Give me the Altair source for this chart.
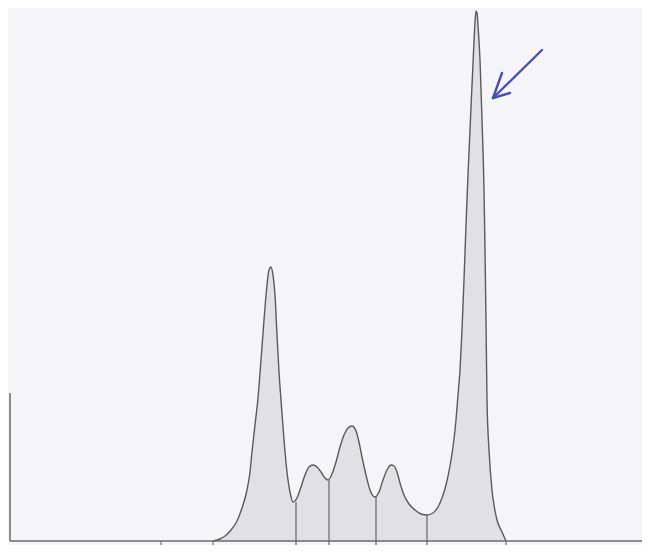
import altair as alt
import pandas as pd

# Densitometry trace (x: position along strip from the left axis, y: density above baseline)
trace_x = [203, 210, 215, 221, 227, 232, 237, 240, 242, 245, 248, 251, 254, 257, 259, 261, 263, 265, 267,
           269, 271, 274, 277, 280, 283, 287, 291, 295, 299, 303, 307, 311, 315, 318, 322, 326, 330, 334,
           338, 342, 346, 349, 352, 356, 360, 365, 369, 373, 377, 381, 384, 387, 390, 394, 399, 405, 411,
           417, 423, 428, 432, 436, 440, 443, 446, 448, 450, 452, 454, 456, 458, 460, 462, 464, 465, 466,
           467, 468, 470, 472, 474, 475, 476, 477, 479, 482, 484, 487, 492, 496]
trace_y = [0, 2, 5, 11, 20, 33, 51, 69, 89, 116, 143, 181, 221, 256, 271, 274, 266, 246, 206,
           169, 141, 101, 69, 49, 39, 43, 54, 66, 74, 76, 74, 69, 63, 61, 67, 79, 94, 106,
           113, 115, 110, 99, 84, 66, 51, 44, 49, 61, 71, 76, 75, 69, 58, 46, 37, 31, 27,
           26, 28, 34, 43, 56, 75, 94, 121, 146, 171, 211, 261, 316, 366, 411, 456, 499, 519, 530,
           528, 515, 481, 421, 351, 291, 221, 141, 91, 51, 36, 21, 9, 0]

# fraction dividers (x position, height of the trace where they meet it)
divider_x = [286, 319, 366, 417]
divider_top = [39, 61, 45, 26]

# tick marks below the baseline
tick_x = [151, 203, 496]
tick_bottom = [-6, -6, -10]

# hand-drawn arrow (shaft and two barbs)
arrow_x1 = [532, 483, 483]
arrow_y1 = [491, 443, 443]
arrow_x2 = [483, 492, 500]
arrow_y2 = [443, 468, 448]

xs = alt.Scale(domain=[-2, 632], nice=False, zero=False)
ys = alt.Scale(domain=[-4, 533], nice=False, zero=False)

trace = pd.DataFrame({"x": trace_x, "y": trace_y})
dividers = pd.DataFrame({"x": divider_x, "top": divider_top, "bottom": [-9] * len(divider_x)})
ticks = pd.DataFrame({"x": tick_x, "bottom": tick_bottom, "top": [0] * len(tick_x)})
arrow = pd.DataFrame({"x": arrow_x1, "y": arrow_y1, "x2": arrow_x2, "y2": arrow_y2})
axes = pd.DataFrame({"x": [0, 0], "x2": [0, 640], "y": [0, 0], "y2": [148, 0]})

area = alt.Chart(trace).mark_area(
    interpolate="monotone", color="#d9d9db", line={"color": "#5a5a5a", "strokeWidth": 1.4}
).encode(
    x=alt.X("x:Q", scale=xs, axis=None),
    y=alt.Y("y:Q", scale=ys, axis=None),
)

axis_lines = alt.Chart(axes).mark_rule(color="#6a6a6a", strokeWidth=1.5).encode(
    x=alt.X("x:Q", scale=xs, axis=None), x2="x2:Q",
    y=alt.Y("y:Q", scale=ys, axis=None), y2="y2:Q",
)

divider_lines = alt.Chart(dividers).mark_rule(color="#5a5a5a", strokeWidth=1.1).encode(
    x=alt.X("x:Q", scale=xs, axis=None),
    y=alt.Y("bottom:Q", scale=ys, axis=None), y2="top:Q",
)

tick_lines = alt.Chart(ticks).mark_rule(color="#6a6a6a", strokeWidth=1.1).encode(
    x=alt.X("x:Q", scale=xs, axis=None),
    y=alt.Y("bottom:Q", scale=ys, axis=None), y2="top:Q",
)

arrow_lines = alt.Chart(arrow).mark_rule(color="#4b4db5", strokeWidth=2.4, strokeCap="round").encode(
    x=alt.X("x:Q", scale=xs, axis=None), x2="x2:Q",
    y=alt.Y("y:Q", scale=ys, axis=None), y2="y2:Q",
)

chart = alt.layer(area, divider_lines, axis_lines, tick_lines, arrow_lines).properties(
    width=634, height=537, padding=0, autosize="none", background="#f5f5f7"
).configure_view(stroke=None)

chart.save("out.html", embed_options={"renderer": "svg", "actions": False})
